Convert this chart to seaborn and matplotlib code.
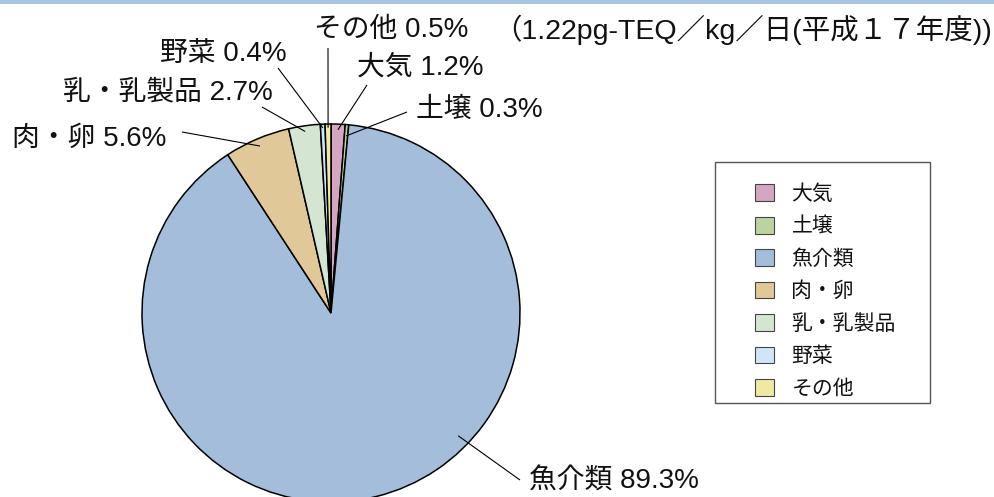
import numpy as np
import matplotlib
matplotlib.use("Agg")
import matplotlib.pyplot as plt
import seaborn as sns
from matplotlib.patches import Rectangle

# Intake sources of dioxins (share of total daily intake, %)
categories = ["大気", "土壌", "魚介類", "肉・卵", "乳・乳製品", "野菜", "その他"]
shares = [1.2, 0.3, 89.3, 5.6, 2.7, 0.4, 0.5]
colors = ["#d5a6c1", "#bcd3a0", "#a3bddb", "#e1c898", "#d4e6d1", "#d0e5f7", "#eeeaa6"]
subtitle = "（1.22pg-TEQ／kg／日(平成１７年度))"

# label layout (pixel positions of text centres and leader-line starts)
label_centers = [(420, 68), (479, 110), (614, 482), (89, 139), (168, 92), (223, 54), (391, 30)]
leader_starts = [(367, 85), (407, 112), (520, 480), (182, 132), (262, 107), (278, 68), (328, 48)]
anchor_frac = [0.5, 0.5, 0.40, 0.5, 0.5, 0.5, 0.5]
anchor_rad = [0.97, 0.94, 0.935, 0.96, 0.97, 0.98, 0.98]

sns.set_theme(style="white")
plt.rcParams["font.family"] = ["Noto Sans CJK JP", "DejaVu Sans"]
label_family = ["Liberation Sans", "Noto Sans CJK JP"]

W, H = 995, 497
fig = plt.figure(figsize=(W / 100, H / 100), dpi=100)
ax = fig.add_axes([0, 0, 1, 1])
CX, CY, R = 331, 313, 189


def to_data(px, py):
    return (px - CX) / R, (CY - py) / R


wedges, _ = ax.pie(
    shares, colors=colors, startangle=90, counterclock=False,
    radius=1, center=(0, 0),
    wedgeprops=dict(edgecolor="black", linewidth=1.1),
)
ax.set_xlim(to_data(0, 0)[0], to_data(W, 0)[0])
ax.set_ylim(to_data(0, H)[1], to_data(0, 0)[1])
ax.set_aspect("equal", adjustable="box")
ax.axis("off")

for w, cat, val, (tx, ty), (sx, sy), f, r in zip(
        wedges, categories, shares, label_centers, leader_starts, anchor_frac, anchor_rad):
    ang = np.deg2rad(w.theta2 - f * (w.theta2 - w.theta1))
    ex, ey = r * np.cos(ang), r * np.sin(ang)
    x0, y0 = to_data(sx, sy)
    ax.plot([x0, ex], [y0, ey], color="black", lw=0.8, solid_capstyle="butt")
    lx, ly = to_data(tx, ty)
    ax.text(lx, ly, f"{cat} {val}%", ha="center", va="center", fontsize=20,
            color="#111111", family=label_family)

sx, sy = to_data(992, 30)
ax.text(sx, sy, subtitle, ha="right", va="center", fontsize=20.5, color="#111111",
        family=label_family)

# legend
leg = ax.legend(
    wedges, categories, loc="upper left",
    bbox_to_anchor=(755 / W, 1 - 183 / H), bbox_transform=fig.transFigure,
    frameon=False, fontsize=15, handlelength=0.9, handleheight=0.85,
    handletextpad=0.85, labelspacing=0.5, borderpad=0, borderaxespad=0,
)
for t in leg.get_texts():
    t.set_color("#111111")
for p in leg.get_patches():
    p.set_linewidth(0.8)
    p.set_edgecolor("#444444")

fig.patches.append(Rectangle((715 / W, 1 - 403 / H), 215 / W, 241 / H,
                             transform=fig.transFigure, fill=False,
                             edgecolor="#555555", lw=1.0))
fig.patches.append(Rectangle((0, 1 - 4 / H), 1, 4 / H, transform=fig.transFigure,
                             facecolor="#a7c3e0", edgecolor="none"))

fig.savefig("out.png", dpi=100)
